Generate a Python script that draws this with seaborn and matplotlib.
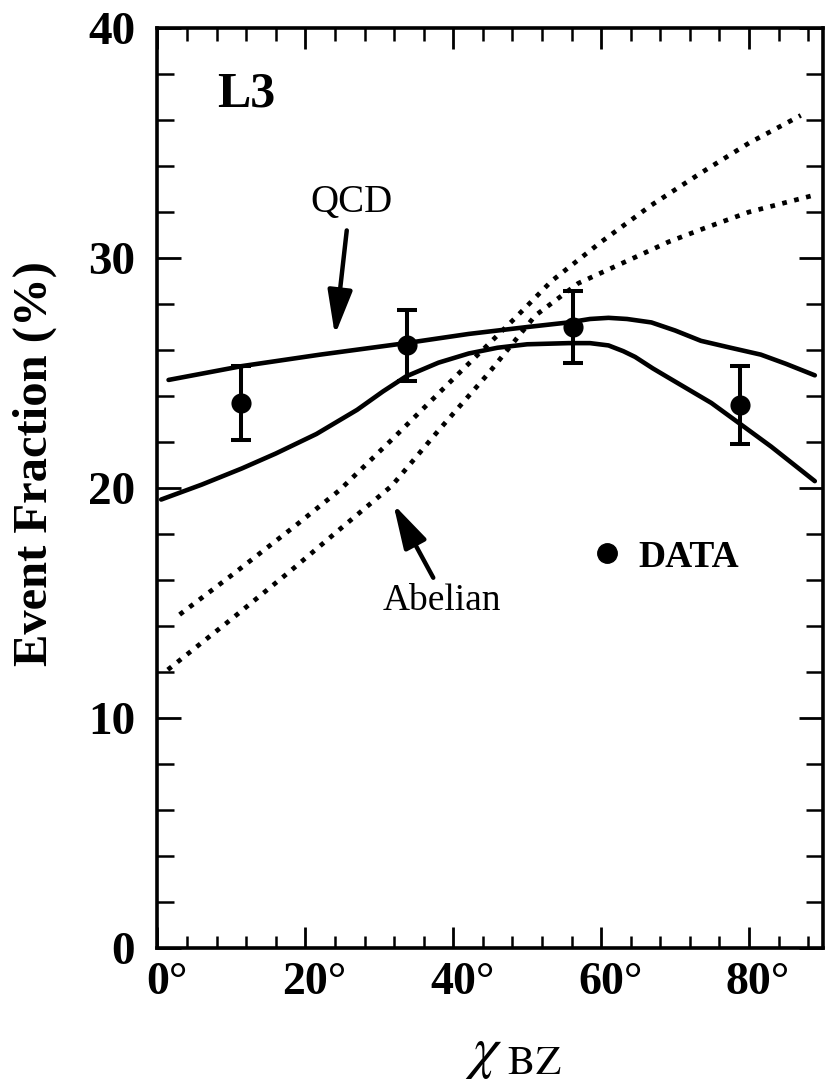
import matplotlib
matplotlib.use("Agg")
import matplotlib.pyplot as plt
import matplotlib.transforms as mtransforms
import seaborn as sns
from matplotlib.lines import Line2D
from matplotlib.ticker import MultipleLocator

# ---------------- data ----------------
data_x = [11.25, 33.75, 56.25, 78.75]
data_y = [23.7, 26.2, 27.0, 23.6]
data_err = [1.6, 1.55, 1.55, 1.7]

qcd_hi_x = [1.5, 11.4, 22.0, 33.6, 42.1, 50.0, 55.6, 58.5, 61.0, 63.5, 66.8, 70.0, 73.5, 77.5, 81.6, 85.0, 88.9]
qcd_hi_y = [24.7, 25.3, 25.8, 26.3, 26.7, 27.0, 27.2, 27.35, 27.4, 27.35, 27.2, 26.85, 26.4, 26.1, 25.8, 25.4, 24.9]

qcd_lo_x = [0.5, 6.0, 11.4, 16.0, 21.5, 27.0, 30.5, 33.6, 38.0, 42.1, 46.0, 50.0, 55.6, 58.5, 61.0, 63.0, 64.6,
            67.0, 69.1, 74.9, 78.75, 83.0, 88.9]
qcd_lo_y = [19.5, 20.15, 20.85, 21.5, 22.35, 23.4, 24.2, 24.85, 25.45, 25.85, 26.1, 26.25, 26.3, 26.3, 26.2, 25.95, 25.7,
            25.2, 24.8, 23.7, 22.8, 21.8, 20.3]

abel_hi_x = [3.0, 10.0, 18.8, 24.6, 32.0, 40.8, 48.4, 53.3, 60.0, 66.8, 73.5, 80.0, 87.0]
abel_hi_y = [14.5, 16.2, 18.4, 19.9, 22.2, 25.0, 27.4, 29.0, 30.7, 32.3, 33.7, 35.0, 36.2]

abel_lo_x = [1.4, 5.3, 10.0, 18.0, 25.0, 31.7, 38.0, 44.8, 51.1, 56.9, 63.7, 69.1, 74.0, 80.0, 88.4]
abel_lo_y = [12.1, 13.1, 14.3, 16.4, 18.3, 20.1, 22.5, 25.0, 27.5, 28.9, 29.9, 30.7, 31.3, 32.0, 32.7]

x_ticks = [0, 20, 40, 60, 80]
x_tick_labels = ["0°", "20°", "40°", "60°", "80°"]
y_ticks = [0, 10, 20, 30, 40]
y_tick_labels = ["0", "10", "20", "30", "40"]

# ---------------- style ----------------
sns.set_theme(style="ticks")
plt.rcParams["font.family"] = ["Liberation Serif", "DejaVu Serif"]
plt.rcParams["mathtext.fontset"] = "stix"
plt.rcParams["text.color"] = "black"
plt.rcParams["axes.labelcolor"] = "black"
plt.rcParams["xtick.color"] = "black"
plt.rcParams["ytick.color"] = "black"
plt.rcParams["axes.edgecolor"] = "black"
plt.rcParams["axes.linewidth"] = 2.6

fig = plt.figure(figsize=(8.27, 10.82), dpi=100)
ax = fig.add_axes([0.1904, 0.1238, 0.8047, 0.8503])

# curves
sns.lineplot(x=qcd_hi_x, y=qcd_hi_y, ax=ax, color="black", lw=3.3, sort=False, estimator=None)
sns.lineplot(x=qcd_lo_x, y=qcd_lo_y, ax=ax, color="black", lw=3.3, sort=False, estimator=None)
sns.lineplot(x=abel_hi_x, y=abel_hi_y, ax=ax, color="black", lw=3.4, sort=False, estimator=None,
             linestyle=(0, (1, 1.6)))
sns.lineplot(x=abel_lo_x, y=abel_lo_y, ax=ax, color="black", lw=3.4, sort=False, estimator=None,
             linestyle=(0, (1, 1.6)))

# data with error bars
ax.errorbar(data_x, data_y, yerr=data_err, fmt="none", ecolor="black",
            elinewidth=2.9, capsize=7, capthick=2.9, zorder=4)
sns.scatterplot(x=data_x, y=data_y, ax=ax, color="black", s=210, linewidth=0, zorder=5)

# axes
ax.set_xlim(0, 90)
ax.set_ylim(0, 40)
ax.set_xticks(x_ticks)
ax.set_xticklabels(x_tick_labels)
ax.set_yticks(y_ticks)
ax.set_yticklabels(y_tick_labels)
ax.xaxis.set_minor_locator(MultipleLocator(4))
ax.yaxis.set_minor_locator(MultipleLocator(2))

ax.tick_params(axis="both", which="both", direction="in", top=True, right=True, colors="black")
ax.tick_params(axis="x", which="major", length=15, width=2.0, pad=10)
ax.tick_params(axis="x", which="minor", length=9, width=1.8)
ax.tick_params(axis="y", which="major", length=17, width=2.0, pad=16)
ax.tick_params(axis="y", which="minor", length=12, width=1.8)
shift = mtransforms.ScaledTranslation(0.09, 0, fig.dpi_scale_trans)
for lab in ax.get_xticklabels():
    lab.set_fontsize(33)
    lab.set_fontweight("bold")
    lab.set_transform(lab.get_transform() + shift)
for lab in ax.get_yticklabels():
    lab.set_fontsize(34)
    lab.set_fontweight("bold")
for sp in ax.spines.values():
    sp.set_color("black")
    sp.set_linewidth(2.6)

ax.set_ylabel("Event Fraction (%)", fontsize=35, fontweight="bold", va="center")
ax.yaxis.set_label_coords(-0.184, 0.527)
ax.set_xlabel(r"$\chi_{\ \mathrm{BZ}}$", fontsize=42, va="top")
ax.xaxis.set_label_coords(0.535, -0.088)

# annotations
ax.text(12.0, 37.1, "L3", fontsize=36, fontweight="bold", ha="center", va="center")
ax.text(26.3, 32.4, "QCD", fontsize=28, ha="center", va="center")
ax.annotate("", xy=(24.0, 26.65), xytext=(25.6, 31.2),
            arrowprops=dict(arrowstyle="-|>,head_length=0.9,head_width=0.25", lw=3.2,
                            color="black", mutation_scale=30, shrinkA=0, shrinkB=0))
ax.text(38.5, 15.1, "Abelian", fontsize=27, ha="center", va="center")
ax.annotate("", xy=(31.9, 19.3), xytext=(37.3, 16.1),
            arrowprops=dict(arrowstyle="-|>,head_length=0.9,head_width=0.25", lw=3.2,
                            color="black", mutation_scale=30, shrinkA=0, shrinkB=0))

# legend
handle = Line2D([], [], marker="o", color="black", linestyle="none", markersize=14)
leg = ax.legend([handle], ["DATA"], loc="center left", bbox_to_anchor=(0.659, 0.425),
                frameon=False, handlelength=0.6, handletextpad=0.52, borderpad=0,
                borderaxespad=0, labelcolor="black",
                prop={"family": "Liberation Serif", "weight": "bold", "size": 27})

fig.savefig("out.png", dpi=100)
